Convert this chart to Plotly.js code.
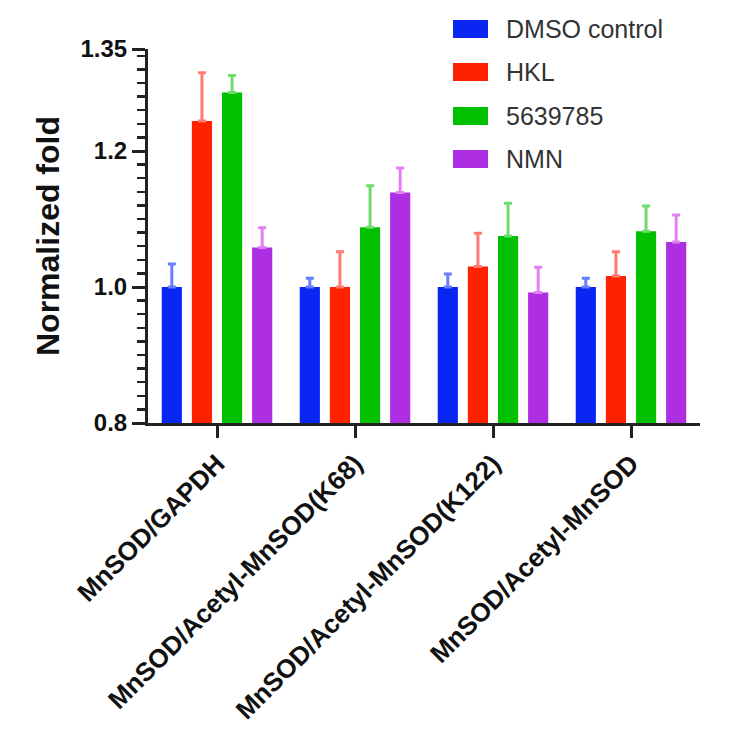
<!DOCTYPE html>
<html>
<head>
<meta charset="utf-8">
<script src="https://cdn.plot.ly/plotly-3.0.1.min.js"></script>
<style>html,body{margin:0;padding:0;background:#fff;}#chart{width:745px;height:754px;}</style>
</head>
<body>
<div id="chart"></div>
<script>
var categories = ["MnSOD/GAPDH", "MnSOD/Acetyl-MnSOD(K68)", "MnSOD/Acetyl-MnSOD(K122)", "MnSOD/Acetyl-MnSOD"];
var seriesNames = ["DMSO control", "HKL", "5639785", "NMN"];
var dmsoValues = [1.000, 1.000, 1.000, 1.000];
var dmsoErrors = [0.034, 0.013, 0.019, 0.013];
var hklValues = [1.244, 1.000, 1.030, 1.016];
var hklErrors = [0.071, 0.052, 0.049, 0.036];
var cmpValues = [1.286, 1.088, 1.075, 1.082];
var cmpErrors = [0.025, 0.061, 0.048, 0.037];
var nmnValues = [1.058, 1.139, 0.992, 1.066];
var nmnErrors = [0.029, 0.036, 0.037, 0.040];
var yTickVals = [0.8, 1.0, 1.2, 1.35];
var yTickText = ["0.8", "1.0", "1.2", "1.35"];

var barColors = ["#0a26f2", "#ff2200", "#00c000", "#ae2fe2"];
var errColors = ["#6a7cff", "#ff7a70", "#70dc70", "#e080f2"];
var allValues = [dmsoValues, hklValues, cmpValues, nmnValues];
var allErrors = [dmsoErrors, hklErrors, cmpErrors, nmnErrors];

var FONT = "Liberation Sans, Arial, Helvetica, sans-serif";
var W = 745, H = 754;
var M = {l: 148, r: 45, t: 49, b: 331};
var pw = W - M.l - M.r, ph = H - M.t - M.b;
function px2x(px) { return (px - M.l) / pw; }
function py2y(py) { return (H - M.b - py) / ph; }

var traces = seriesNames.map(function (name, i) {
  return {
    type: "bar",
    name: name,
    x: categories,
    y: allValues[i],
    marker: {color: barColors[i], line: {width: 0}},
    error_y: {
      type: "data",
      array: allErrors[i],
      arrayminus: allErrors[i].map(function () { return 0; }),
      symmetric: false,
      color: errColors[i],
      thickness: 3,
      width: 4
    },
    showlegend: false
  };
});

var shapes = [], annotations = [];
var legendRowY = [29, 72, 116, 159];
seriesNames.forEach(function (name, i) {
  var cy = legendRowY[i];
  shapes.push({
    type: "rect", xref: "paper", yref: "paper",
    x0: px2x(453), x1: px2x(488), y0: py2y(cy + 9), y1: py2y(cy - 9),
    fillcolor: barColors[i], line: {width: 0}
  });
  annotations.push({
    xref: "paper", yref: "paper", x: px2x(504), y: py2y(cy),
    xanchor: "left", yanchor: "middle", showarrow: false,
    text: name, font: {family: FONT, size: 25, color: "#333333"}
  });
});

var layout = {
  width: W, height: H,
  margin: M,
  paper_bgcolor: "#ffffff", plot_bgcolor: "#ffffff",
  font: {family: FONT, color: "#111111"},
  barmode: "group",
  bargap: 0.127,
  bargroupgap: 0.33,
  showlegend: false,
  xaxis: {
    type: "category",
    showline: true, linecolor: "#222222", linewidth: 3,
    ticks: "outside", ticklen: 12, tickwidth: 3, tickcolor: "#222222",
    tickangle: -45,
    tickfont: {family: FONT, size: 26, color: "#111111", weight: "bold"},
    showgrid: false, zeroline: false
  },
  yaxis: {
    range: [0.8, 1.35],
    tickmode: "array", tickvals: yTickVals, ticktext: yTickText,
    showline: true, linecolor: "#222222", linewidth: 3,
    ticks: "outside", ticklen: 13, tickwidth: 3, tickcolor: "#222222",
    ticklabelstandoff: 0,
    tickfont: {family: FONT, size: 24, color: "#111111", weight: "bold"},
    minor: {tickmode: "linear", tick0: 0.8, dtick: 0.02, ticks: "outside", ticklen: 8, tickwidth: 2.5, tickcolor: "#222222", showgrid: false},
    showgrid: false, zeroline: false,
    title: {text: "Normalized fold", standoff: 12, font: {family: FONT, size: 32, color: "#111111", weight: "bold"}}
  },
  shapes: shapes,
  annotations: annotations
};

Plotly.newPlot("chart", traces, layout, {displayModeBar: false, staticPlot: true});
</script>
</body>
</html>
